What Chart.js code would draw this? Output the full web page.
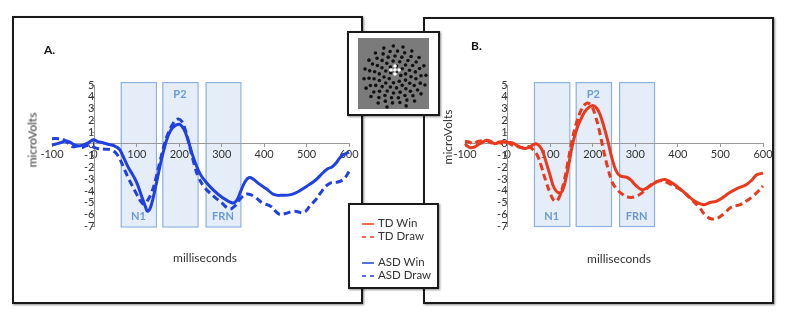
<!DOCTYPE html>
<html>
<head>
<meta charset="utf-8">
<script src="https://cdn.jsdelivr.net/npm/chart.js@4.4.0/dist/chart.umd.min.js"></script>
<style>
  body { margin: 0; width: 785px; height: 322px; background: #fff; position: relative; overflow: hidden; font-family: Lato, sans-serif; }
  .panel { position: absolute; box-sizing: border-box; border: 2px solid #1a1a1a; box-shadow: 1px 1px 2px rgba(0,0,0,0.45); background: #fff; }
  .box { position: absolute; box-sizing: border-box; border: 2px solid #1a1a1a; box-shadow: 1px 1px 2px rgba(0,0,0,0.45); background: #fff; z-index: 5; }
  canvas.chart { position: absolute; z-index: 2; }
  .txt { position: absolute; z-index: 3; color: #333; font-size: 12px; white-space: nowrap; }
  .title { font-weight: bold; color: #111; font-size: 12px; }
  .ylab { transform: translate(-50%, -50%) rotate(-90deg); }
  .xlab { transform: translate(-50%, -50%); }
  .leg { position: absolute; font-size: 11.5px; color: #333; }
  .sw { position: absolute; }
</style>
</head>
<body>
<div class="panel" style="left:12px;top:16px;width:351px;height:288px;"></div>
<div class="panel" style="left:423px;top:17px;width:351px;height:287px;"></div>

<canvas id="chartA" class="chart" width="360" height="285" style="left:14px;top:18px;"></canvas>
<canvas id="chartB" class="chart" width="360" height="284" style="left:425px;top:19px;"></canvas>

<div class="txt title" style="left:44px;top:42px;">A.</div>
<div class="txt title" style="left:471px;top:38px;">B.</div>
<div class="txt ylab" style="left:32px;top:140px;">microVolts</div>
<div class="txt ylab" style="left:447px;top:137px;">microVolts</div>
<div class="txt xlab" style="left:205px;top:257px;">milliseconds</div>
<div class="txt xlab" style="left:619px;top:258px;">milliseconds</div>

<div class="box" style="left:347px;top:31px;width:93px;height:85px;">
  <canvas id="net" width="89" height="81"></canvas>
</div>
<div class="box" id="legend" style="left:348px;top:203px;width:91px;height:86px;"></div>

<script>
// component windows (ms)
const windowStart = [62, 160, 262];
const windowEnd = [145, 243, 344];
const windowNames = ['N1', 'P2', 'FRN'];

const xTicks = [-100, 0, 100, 200, 300, 400, 500, 600];
const yTicks = [-7, -6, -5, -4, -3, -2, -1, 0, 1, 2, 3, 4, 5];

// Panel A: ASD
const asdWinT = [-100, -85, -67, -55, -43, -27, -15, -2, 8, 20, 35, 49, 59, 67, 80, 90, 100, 110, 120, 125, 133, 145, 155, 165, 175, 185, 200, 210, 220, 230, 240, 250, 260, 280, 300, 325, 335, 345, 355, 365, 375, 385, 405, 424, 445, 463, 480, 500, 520, 540, 550, 560, 570, 580, 590, 600];
const asdWinV = [-0.1, 0.05, 0.25, 0.1, -0.15, -0.1, 0.1, 0.35, 0.2, 0.1, -0.05, -0.2, -0.45, -1.0, -2.0, -2.6, -3.3, -4.3, -5.3, -5.7, -5.3, -3.5, -1.8, -0.3, 0.8, 1.4, 1.67, 1.3, 0.4, -0.8, -1.8, -2.6, -3.1, -3.9, -4.5, -5.0, -4.8, -4.0, -3.2, -2.85, -3.0, -3.3, -3.8, -4.3, -4.35, -4.3, -4.05, -3.6, -3.1, -2.4, -2.1, -1.95, -1.6, -1.1, -0.85, -0.7];
const asdDrawT = [-100, -85, -72, -60, -50, -40, -30, -20, -10, 0, 10, 25, 40, 50, 60, 70, 80, 90, 100, 108, 116, 125, 135, 145, 155, 165, 175, 185, 195, 205, 215, 225, 235, 245, 260, 280, 300, 318, 330, 345, 360, 376, 396, 416, 435, 450, 470, 494, 510, 520, 533, 545, 557, 570, 580, 590, 600];
const asdDrawV = [0.45, 0.45, 0.35, 0.0, -0.25, -0.15, -0.3, -0.15, -0.15, -0.3, -0.4, -0.45, -0.5, -0.75, -1.3, -2.1, -2.9, -3.6, -4.3, -4.8, -5.1, -4.8, -4.1, -2.9, -1.4, 0.0, 1.0, 1.7, 2.1, 1.95, 1.1, -0.3, -1.7, -2.8, -3.7, -4.4, -5.0, -5.5, -5.3, -4.6, -4.25, -4.45, -5.0, -5.3, -5.95, -5.9, -5.7, -5.8, -5.15, -4.8, -4.15, -3.6, -3.3, -3.25, -3.15, -2.9, -2.35];

// Panel B: TD
const tdWinT = [-100, -90, -80, -70, -60, -50, -40, -30, -20, -10, 0, 10, 20, 30, 40, 50, 60, 67, 75, 82, 90, 100, 110, 122, 130, 138, 145, 155, 165, 175, 185, 200, 210, 218, 226, 235, 245, 255, 265, 280, 290, 300, 315, 330, 345, 360, 370, 385, 400, 420, 440, 460, 475, 490, 505, 520, 540, 560, 575, 585, 600];
const tdWinV = [0.0, -0.3, -0.3, -0.1, 0.1, 0.3, 0.2, 0.0, 0.15, 0.2, 0.1, 0.1, -0.1, -0.3, -0.4, -0.3, -0.1, 0.0, -0.2, -0.6, -1.5, -2.7, -3.8, -4.2, -3.9, -2.8, -1.5, 0.3, 1.5, 2.3, 2.9, 3.25, 3.0, 2.4, 1.5, 0.3, -1.2, -2.3, -2.75, -2.85, -3.1, -3.5, -3.9, -3.7, -3.35, -3.1, -3.05, -3.3, -3.7, -4.3, -4.9, -5.2, -5.0, -4.9, -4.6, -4.2, -3.8, -3.5, -3.05, -2.65, -2.5];
const tdDrawT = [-100, -90, -80, -70, -60, -50, -40, -30, -20, -10, 0, 10, 20, 30, 40, 50, 60, 70, 80, 90, 100, 108, 114, 122, 132, 142, 152, 162, 172, 182, 190, 198, 206, 215, 225, 235, 245, 255, 270, 285, 300, 315, 330, 345, 360, 375, 390, 410, 430, 450, 465, 480, 495, 510, 525, 545, 560, 575, 590, 600];
const tdDrawV = [0.2, 0.15, 0.0, 0.2, 0.25, 0.3, 0.1, 0.0, 0.1, 0.0, 0.1, -0.1, -0.2, -0.3, -0.3, -0.25, -0.5, -1.0, -2.0, -3.2, -4.2, -4.8, -4.9, -4.5, -3.3, -1.5, 0.4, 1.8, 2.8, 3.35, 3.45, 3.2, 2.4, 1.2, -0.5, -2.0, -3.2, -3.8, -4.3, -4.55, -4.5, -4.2, -3.7, -3.3, -3.15, -3.3, -3.6, -4.0, -4.7, -5.4, -6.1, -6.4, -6.3, -5.9, -5.4, -5.2, -4.9, -4.5, -4.0, -3.6];

const BLUE = '#2140e0';
const RED = '#ea3a1e';

const windowsPlugin = {
    id: 'windows',
    beforeDraw(chart) {
        const { ctx, scales: { x, y } } = chart;
        ctx.save();
        const top = y.getPixelForValue(5.25);
        const bottom = y.getPixelForValue(-7);
        windowStart.forEach((s, i) => {
            const l = x.getPixelForValue(s);
            const r = x.getPixelForValue(windowEnd[i]);
            ctx.fillStyle = 'rgba(205, 222, 242, 0.55)';
            ctx.fillRect(l, top, r - l, bottom - top);
            ctx.strokeStyle = '#8cb2e0';
            ctx.lineWidth = 1.2;
            ctx.strokeRect(l + 0.5, top + 0.5, r - l, bottom - top);
            ctx.fillStyle = '#6b9bd6';
            ctx.font = 'bold 11px Lato';
            ctx.textAlign = 'center';
            ctx.textBaseline = 'middle';
            const ty = windowNames[i] === 'P2' ? top + 12 : bottom - 10;
            ctx.fillText(windowNames[i], (l + r) / 2, ty);
        });
        ctx.restore();
    }
};

function series(label, t, v, color, dashed) {
    return {
        label: label,
        data: t.map((ms, i) => ({ x: ms, y: v[i] })),
        borderColor: color,
        borderWidth: 3,
        borderDash: dashed ? [7, 4] : [],
        pointRadius: 0,
        tension: 0.4,
        fill: false,
        clip: 4
    };
}

function makeChart(id, datasets, padding) {
    const tickFont = { family: 'Lato', size: 11 };
    new Chart(document.getElementById(id), {
        type: 'line',
        data: { datasets: datasets },
        options: {
            responsive: false,
            animation: false,
            layout: { padding: padding },
            plugins: { legend: { display: false }, tooltip: { enabled: false } },
            scales: {
                x: {
                    axis: 'x',
                    type: 'linear',
                    min: -100,
                    max: 600,
                    position: { y: 0 },
                    afterBuildTicks: s => { s.ticks = xTicks.map(v => ({ value: v })); },
                    ticks: { color: '#333', font: tickFont, padding: 1, maxRotation: 0, autoSkip: false },
                    grid: { drawOnChartArea: false, tickLength: 3, color: '#999' },
                    border: { color: '#999', width: 1 }
                },
                y: {
                    axis: 'y',
                    type: 'linear',
                    min: -7,
                    max: 5,
                    position: { x: 0 },
                    afterBuildTicks: s => { s.ticks = yTicks.map(v => ({ value: v })); },
                    ticks: { color: '#333', font: tickFont, padding: 2, autoSkip: false },
                    grid: { drawOnChartArea: false, tickLength: 3, color: '#999' },
                    border: { color: '#999', width: 1 }
                }
            }
        },
        plugins: [windowsPlugin]
    });
}

makeChart('chartA', [
    series('ASD Win', asdWinT, asdWinV, BLUE, false),
    series('ASD Draw', asdDrawT, asdDrawV, BLUE, true)
], { left: 38, right: 25, top: 67, bottom: 76.5 });

makeChart('chartB', [
    series('TD Win', tdWinT, tdWinV, RED, false),
    series('TD Draw', tdDrawT, tdDrawV, RED, true)
], { left: 40, right: 22, top: 66, bottom: 77 });

// legend box
const legendItems = [
    { text: 'TD Win', color: RED, dashed: false, top: 11 },
    { text: 'TD Draw', color: RED, dashed: true, top: 24 },
    { text: 'ASD Win', color: BLUE, dashed: false, top: 50 },
    { text: 'ASD Draw', color: BLUE, dashed: true, top: 63 }
];
const legend = document.getElementById('legend');
legendItems.forEach(item => {
    const dash = item.dashed ? ' stroke-dasharray="4 4"' : '';
    legend.insertAdjacentHTML('beforeend',
        `<svg class="sw" width="14" height="4" style="left:12px;top:${item.top + 6}px">` +
        `<line x1="0" y1="2" x2="12" y2="2" stroke="${item.color}" stroke-width="1.5"${dash}/></svg>` +
        `<div class="leg" style="left:28px;top:${item.top}px">${item.text}</div>`);
});

// electrode net picture
const net = document.getElementById('net').getContext('2d');
net.fillStyle = '#7b7b7b';
net.fillRect(9, 5, 71, 71);
const cx = 46, cy = 42;
net.fillStyle = '#111';
[[6, 6], [11, 11], [16, 15], [21, 19], [26, 22], [31, 20]].forEach(([r, n]) => {
    for (let k = 0; k < n; k++) {
        const a = (k / n) * Math.PI * 2 + r * 0.13;
        const px = cx + r * Math.cos(a);
        const py = cy + 2 + r * Math.sin(a);
        if (px < 11 || px > 78 || py < 7 || py > 74) continue;
        net.beginPath();
        net.arc(px, py, 1.8, 0, Math.PI * 2);
        net.fill();
    }
});
net.fillStyle = '#fff';
[[0, -4], [-4, 0], [4, 0], [0, 4], [0, 0]].forEach(([dx, dy]) => {
    net.beginPath();
    net.arc(cx + dx, cy - 5 + dy, 1.8, 0, Math.PI * 2);
    net.fill();
});
</script>
</body>
</html>
